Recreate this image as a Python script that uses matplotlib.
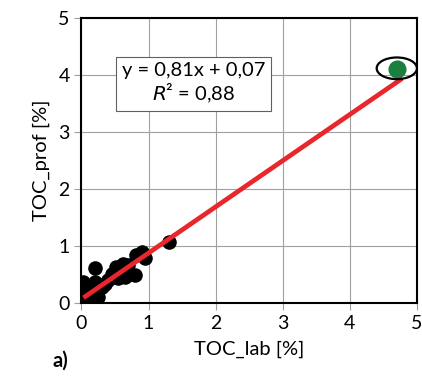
import numpy as np
import matplotlib.pyplot as plt
from matplotlib.patches import Ellipse

# datos
toc_lab = [0.02, 0.03, 0.05, 0.08, 0.10, 0.12, 0.15, 0.20, 0.24, 0.02, 0.08, 0.20,
           0.20, 0.30, 0.35, 0.40, 0.45, 0.50, 0.52, 0.55, 0.62, 0.65, 0.70, 0.72,
           0.80, 0.82, 0.90, 0.94, 1.30]
toc_prof = [0.37, 0.10, 0.14, 0.10, 0.14, 0.22, 0.06, 0.12, 0.10, 0.28, 0.30, 0.37,
            0.62, 0.28, 0.33, 0.40, 0.52, 0.54, 0.64, 0.44, 0.69, 0.46, 0.67, 0.52,
            0.50, 0.84, 0.89, 0.80, 1.07]
outlier_x = [4.70]
outlier_y = [4.10]
pendiente = 0.81
intercepto = 0.07

plt.rcParams['font.family'] = ['Lato', 'DejaVu Sans']

fig = plt.figure(figsize=(4.22, 3.78), dpi=100)
ax = fig.add_axes([0.193, 0.198, 0.795, 0.754])

ax.scatter(toc_lab, toc_prof, s=110, color='black', zorder=3, linewidths=0)
ax.scatter(outlier_x, outlier_y, s=170, color='#1b7f3f', zorder=4, linewidths=0)

xl = np.array([0.03, outlier_x[0] + 0.08])
ax.plot(xl, pendiente * xl + intercepto, color='#e8262b', lw=3.4, zorder=5,
        solid_capstyle='butt')

ax.add_patch(Ellipse((outlier_x[0], outlier_y[0] + 0.02), 0.6, 0.38, fill=False,
                     edgecolor='black', lw=1.6, zorder=6))

ax.set_xlim(0, 5)
ax.set_ylim(0, 5)
ax.set_xticks(range(6))
ax.set_yticks(range(6))
ax.grid(True, color='#a0a0a0', lw=0.8)
ax.set_axisbelow(True)
for s in ax.spines.values():
    s.set_linewidth(1.5)
ax.tick_params(direction='out', length=5, width=0.8, labelsize=14, color='#a0a0a0')

ax.set_xlabel('TOC_lab [%]', fontsize=14.5, labelpad=6)
ax.set_ylabel('TOC_prof [%]', fontsize=14.5, labelpad=6)

ax.text(1.67, 3.86, 'y = 0,81x + 0,07\n$\\mathit{R}$² = 0,88', fontsize=14.5,
        ha='center', va='center', linespacing=1.15,
        bbox=dict(boxstyle='square,pad=0.3', fc='white', ec='#606060', lw=0.8))

fig.text(0.125, 0.03, 'a)', fontsize=14.5, fontweight='bold')

fig.savefig('out.png', dpi=100)
